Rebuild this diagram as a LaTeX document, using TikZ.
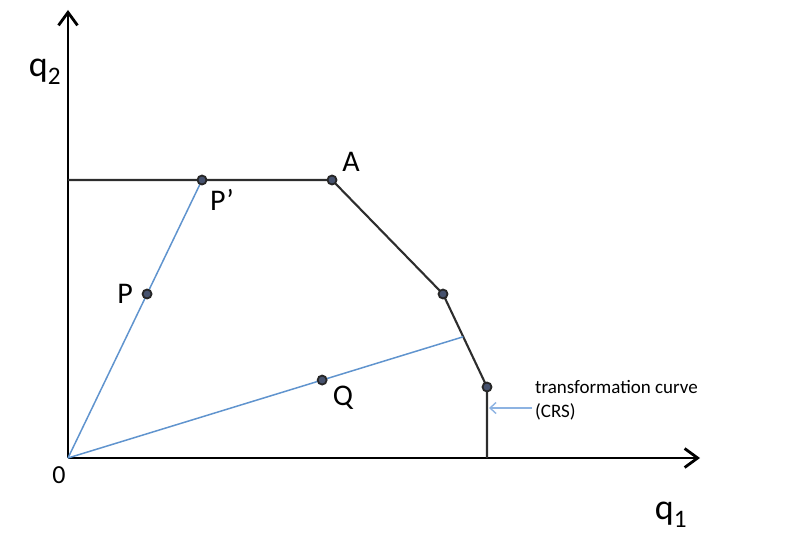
\documentclass[tikz,border=0pt]{standalone}
\usepackage{fontspec}
\setmainfont{Carlito}
\usetikzlibrary{arrows.meta,calc}
\definecolor{rayblue}{RGB}{96,148,206}
\definecolor{notebl}{RGB}{141,179,226}
\definecolor{curvegray}{RGB}{45,45,45}
\definecolor{dotfill}{RGB}{70,82,110}
\tikzset{
  axis/.style={line width=2.8pt,-{Straight Barb[length=13pt,width=19pt]}},
  curve/.style={line width=2.1pt,curvegray},
  ray/.style={line width=1.5pt,rayblue},
  dot/.style={circle,draw=black!85,fill=dotfill,line width=1.8pt,inner sep=0pt,minimum size=9pt},
  ptlabel/.style={font=\fontsize{30}{32}\selectfont}
}
\begin{document}
\begin{tikzpicture}[x=1pt,y=1pt]
  \useasboundingbox (-68,-81) rectangle (722,458);
  % axes
  \coordinate (O) at (0,0);
  \coordinate (ytop) at (0,448);
  \coordinate (xend) at (632,0);
  \draw[axis] (O) -- (ytop);
  \draw[axis] (O) -- (xend);
  \node[font=\fontsize{36}{38}\selectfont] (q2) at (-23,386) {q$_{\mathrm{2}}$};
  \node[font=\fontsize{36}{38}\selectfont] (q1) at (603,-57) {q$_{\mathrm{1}}$};
  \node[font=\fontsize{26}{28}\selectfont] (zero) at (-9,-17) {0};
  % transformation curve
  \coordinate (top) at (0,278);
  \coordinate (A) at (264,278);
  \coordinate (B) at (375,164);
  \coordinate (C) at (419,71);
  \coordinate (foot) at (419,0);
  \draw[curve] (top) -- (A) -- (B) -- (C) -- (foot);
  % rays from the origin
  \coordinate (Pp) at (134,278);
  \coordinate (R) at ($(B)!0.46!(C)$);
  \draw[ray] (O) -- (Pp);
  \draw[ray] (O) -- (R);
  \coordinate (P) at ($(O)!0.59!(Pp)$);
  \coordinate (Q) at ($(O)!0.643!(R)$);
  % points
  \foreach \p in {A,B,C,P,Pp,Q}
    \node[dot] (d\p) at (\p) {};
  \node[ptlabel] (labA) at (283,296) {A};
  \node[ptlabel] (labP) at (57,164) {P};
  \node[ptlabel] (labPp) at (154,258) {P’};
  \node[ptlabel] (labQ) at (275,60) {Q};
  % note
  \node[anchor=west,align=left,inner sep=0pt,font=\fontsize{19}{23.5}\selectfont] (note) at (467,58) {transformation curve\\(CRS)};
  \coordinate (tail) at (464,50);
  \coordinate (hit) at (421,50);
  \draw[notebl,line width=1.4pt,-{Straight Barb[length=6pt,width=11pt]}] (tail) -- (hit);
\end{tikzpicture}
\end{document}
